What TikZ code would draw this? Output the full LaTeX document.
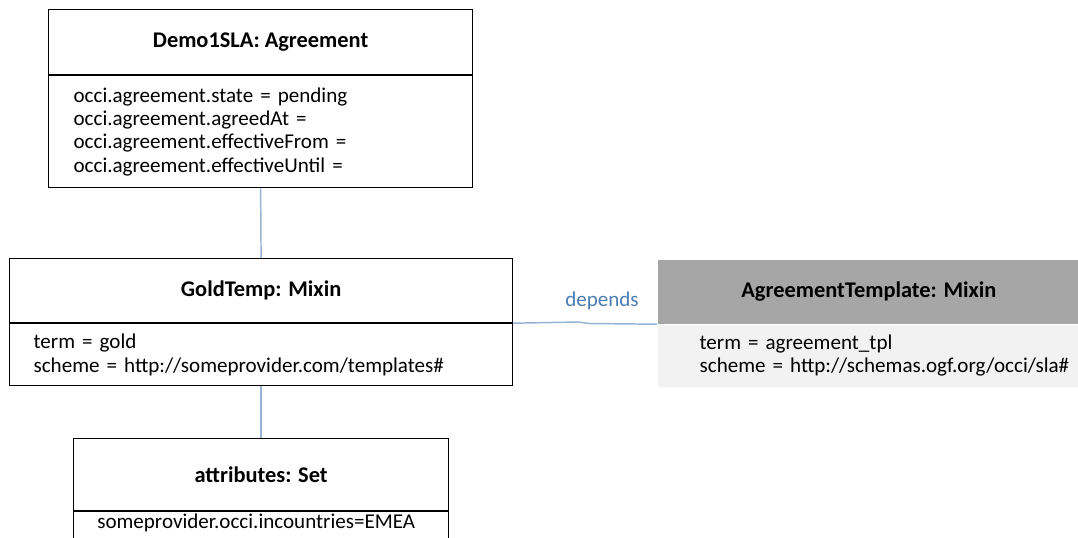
\documentclass[tikz,border=0pt]{standalone}
\usepackage{fontspec}
\setmainfont{Carlito}
\definecolor{conn}{RGB}{149,179,215}
\definecolor{deptext}{RGB}{75,125,180}
\definecolor{hdrgrey}{RGB}{166,166,166}
\definecolor{bodygrey}{RGB}{242,242,242}
\begin{document}
\begin{tikzpicture}[x=0.75pt,y=-0.75pt,
  txt/.style={font=\fontsize{15.8}{17.5}\selectfont},
  titlebox/.style={draw=black, line width=0.9pt, anchor=north west, inner sep=0pt,
    font=\fontsize{16.8}{19}\selectfont\bfseries},
  bodybox/.style={draw=black, line width=0.9pt, anchor=north west, inner ysep=0pt,
    align=left, font=\fontsize{15.8}{17.5}\selectfont},
  link/.style={draw=conn, line width=1.1pt}]
\useasboundingbox (0,0) rectangle (1078,537);
\clip (0,0) rectangle (1078,537);
% Demo1SLA
\node[titlebox, minimum width=318pt, minimum height=48.75pt] (t1) at (48,9) {Demo1SLA: Agreement};
\node[bodybox, text width=280.5pt, inner xsep=18.75pt, minimum height=84pt] (b1) at (t1.south west)
  {occi.agreement.state = pending\\occi.agreement.agreedAt =\\occi.agreement.effectiveFrom =\\occi.agreement.effectiveUntil =};
% GoldTemp
\node[titlebox, minimum width=377.25pt, minimum height=48pt] (t2) at (9,258) {GoldTemp: Mixin};
\node[bodybox, text width=341.25pt, inner xsep=18pt, minimum height=46.5pt] (b2) at (t2.south west)
  {term = gold\\scheme = http://someprovider.com/templates\#};
% attributes
\node[titlebox, minimum width=281.25pt, minimum height=54pt] (t3) at (73,438) {attributes: Set};
\node[bodybox, text width=245.25pt, inner xsep=18pt, minimum height=40pt, anchor=north west] (b3) at (t3.south west) {};
\node[txt, anchor=west, inner sep=0pt] (b3t) at (97,523) {someprovider.occi.incountries=EMEA};
% AgreementTemplate
\node[titlebox, draw=none, fill=hdrgrey, minimum width=317pt, minimum height=48pt] (t4) at (657,259) {AgreementTemplate: Mixin};
\node[bodybox, draw=none, fill=bodygrey, text width=285.5pt, inner xsep=31.5pt, inner ysep=0pt, minimum height=46.5pt, anchor=north west] (b4) at (t4.south west)
  {term = agreement\_tpl\\scheme = http://schemas.ogf.org/occi/sla\#};
% connectors
\draw[link] (b1.south) -- (t2.north);
\draw[link] (b2.south) -- (t3.north);
\coordinate (k1) at (578,322);
\coordinate (k2) at (589,323.5);
\draw[link] (t2.south east) -- (k1) -- (k2) -- (t4.south west);
\node[txt, text=deptext] (dep) at (602,301) {depends};
\end{tikzpicture}
\end{document}
